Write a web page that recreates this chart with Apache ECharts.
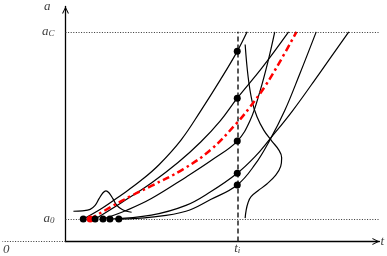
<!DOCTYPE html>
<html>
<head>
<meta charset="utf-8">
<script src="https://cdn.jsdelivr.net/npm/echarts@6/dist/echarts.min.js"></script>
<style>
  html, body { margin: 0; padding: 0; background: #fff; }
  #main { width: 387px; height: 256px; }
</style>
</head>
<body>
<div id="main"></div>
<script>
// levels on the a axis and the observation time
var a0 = 23;
var aC = 215;
var ti = 174;

// start times of the paths at a0 (index 1 is the mean path, red)
var startT = [18, 25, 30, 38, 45, 54];
// values of the black paths at ti
var valuesAtTi = [195, 147, 103, 70, 58];

// sample paths [t, a]
var pathA = [[18, 23], [37, 34], [57, 48], [77, 63], [95, 79], [117, 104], [137, 134], [157, 166], [174, 195], [184, 215]];
var pathB = [[30, 23], [57, 40], [87, 60], [114, 81], [137, 102], [157, 124], [174, 147], [199, 178], [226, 215]];
var pathC = [[38, 23], [62, 32], [87, 44], [122, 66], [149, 84], [174, 103], [187, 124], [197, 154], [205, 184], [212, 215]];
var pathD = [[54, 23], [87, 25], [122, 31], [147, 43], [174, 58], [192, 79], [207, 104], [222, 134], [237, 171], [254, 215]];
var pathE = [[45, 23], [87, 27], [122, 37], [147, 51], [174, 70], [192, 87], [207, 105], [230, 134], [257, 172], [287, 215]];
// mean path
var meanPath = [[25, 23], [47, 36], [67, 47], [87, 57], [119, 74], [147, 94], [174, 122], [187, 138], [202, 159], [217, 184], [234, 215]];

// density of the initial size (around t0) and of a at ti
var densityStart = [[8, 31], [17, 31.5], [25, 33], [30, 37], [34, 44], [38, 50], [41, 52], [44, 50], [48, 44], [52, 37], [57, 33], [62, 31], [67, 30]];
var densityTi = [[182, 202], [185, 169], [189, 144], [194, 128], [201, 114], [209, 103], [216, 94], [219, 86], [218, 77], [213, 68], [204, 59], [195, 52], [188, 46], [185, 40], [183, 32], [182, 24]];

var serif = 'Liberation Serif';
var txt = '#404040';
var dotted = { color: '#333', width: 1, type: [1, 1.6] };

var myChart = echarts.init(document.getElementById('main'));

function curve(data) {
    return {
        type: 'line', data: data, smooth: 0.4, symbol: 'none', silent: true,
        lineStyle: { color: '#000', width: 1.2 }, z: 3
    };
}

var arrow = 'path://M0,10 L5,0 L10,10 L8.4,10 L5,3 L1.6,10 Z';

var startDots = startT.map(function (t, i) {
    return i === 1 ? { value: [t, a0], itemStyle: { color: '#ff0000' } } : [t, a0];
});
var tiDots = valuesAtTi.map(function (v) { return [ti, v]; });

var option = {
    animation: false,
    grid: { left: 63, right: 6, top: 3, bottom: 12 },
    xAxis: {
        type: 'value', min: 0, max: 318,
        splitLine: { show: false },
        axisLine: { lineStyle: { color: '#000', width: 1.3 }, symbol: ['none', arrow], symbolSize: [8, 7], symbolOffset: [0, -3.5] },
        axisTick: { show: false },
        axisLabel: {
            customValues: [ti], margin: 1,
            formatter: function () { return '{m|t}{s|i}'; },
            rich: {
                m: { fontFamily: serif, fontStyle: 'italic', fontSize: 13, color: txt, lineHeight: 13 },
                s: { fontFamily: serif, fontStyle: 'italic', fontSize: 9, color: txt, lineHeight: 8, verticalAlign: 'bottom' }
            }
        },
        name: 't', nameLocation: 'end', nameGap: 1,
        nameTextStyle: { fontFamily: serif, fontStyle: 'italic', fontSize: 13, color: txt, align: 'left', verticalAlign: 'middle', padding: [9, 0, 0, 0] }
    },
    yAxis: {
        type: 'value', min: 0, max: 241,
        splitLine: { show: false },
        axisLine: { lineStyle: { color: '#000', width: 1.3 }, symbol: ['none', arrow], symbolSize: [8, 7], symbolOffset: [0, -3.5] },
        axisTick: { show: true, customValues: [0], length: 63, lineStyle: dotted },
        axisLabel: {
            customValues: [0, a0, aC], margin: 11,
            formatter: function (v) {
                if (v === 0) return '{z|0}';
                return v === a0 ? '{m|a}{s|0}' : '{m|a}{s|C}';
            },
            rich: {
                m: { fontFamily: serif, fontStyle: 'italic', fontSize: 13, color: txt, lineHeight: 13 },
                s: { fontFamily: serif, fontStyle: 'italic', fontSize: 9, color: txt, lineHeight: 8, verticalAlign: 'bottom' },
                z: { fontFamily: serif, fontStyle: 'italic', fontSize: 13, color: txt, padding: [16, 45, 0, 0] }
            }
        },
        name: 'a', nameLocation: 'end', nameGap: 0,
        nameTextStyle: { fontFamily: serif, fontStyle: 'italic', fontSize: 13, color: txt, align: 'right', verticalAlign: 'middle', padding: [0, 15, 0, 0] }
    },
    series: [
        {
            type: 'line', data: [], silent: true,
            markLine: {
                symbol: 'none', silent: true, label: { show: false },
                lineStyle: dotted,
                data: [
                    { yAxis: a0 },
                    { yAxis: aC },
                    [{ coord: [ti, 0], lineStyle: { color: '#222', width: 1.5, type: [5, 3] } }, { coord: [ti, aC] }]
                ]
            }
        },
        curve(pathA), curve(pathB), curve(pathC), curve(pathD), curve(pathE),
        curve(densityStart), curve(densityTi),
        {
            type: 'line', data: meanPath, smooth: 0.4, symbol: 'none', silent: true, z: 4,
            lineStyle: { color: '#ff0000', width: 2.5, type: [7, 3.5, 2.5, 3.5] }
        },
        {
            type: 'scatter', data: startDots.concat(tiDots), symbolSize: 7, silent: true, z: 5,
            itemStyle: { color: '#000', opacity: 1 }
        }
    ]
};

myChart.setOption(option);
</script>
</body>
</html>
